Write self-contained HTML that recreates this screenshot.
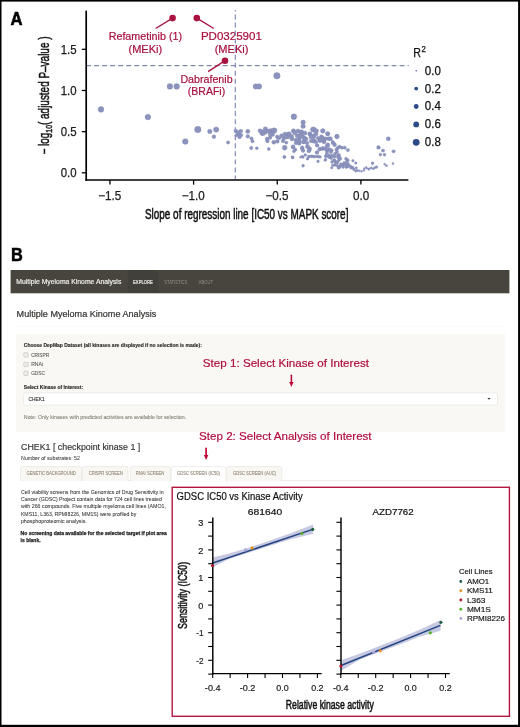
<!DOCTYPE html>
<html><head><meta charset="utf-8"><title>Figure</title>
<style>
html,body{margin:0;padding:0;background:#fff;}
body{width:520px;height:727px;overflow:hidden;}
svg{display:block;font-family:"Liberation Sans", sans-serif;will-change:transform;}
</style></head>
<body>
<svg width="520" height="727" viewBox="0 0 520 727">
<rect width="520" height="727" fill="#fff"/>
<text x="10.6" y="25.3" font-size="17.5" fill="#000" textLength="12.0" lengthAdjust="spacingAndGlyphs" font-weight="bold" stroke="#000" stroke-width="0.55">A</text>
<text x="108.7" y="40.3" font-size="10.5" fill="#a8123e" stroke="#a8123e" stroke-width="0.2" textLength="73.3" lengthAdjust="spacingAndGlyphs">Refametinib (1)</text>
<text x="145.3" y="53.2" font-size="10.5" fill="#a8123e" stroke="#a8123e" stroke-width="0.2" text-anchor="middle" textLength="33.6" lengthAdjust="spacingAndGlyphs">(MEKi)</text>
<text x="200.9" y="40.2" font-size="10.5" fill="#a8123e" stroke="#a8123e" stroke-width="0.2" textLength="61.0" lengthAdjust="spacingAndGlyphs">PD0325901</text>
<text x="231.6" y="53.2" font-size="10.5" fill="#a8123e" stroke="#a8123e" stroke-width="0.2" text-anchor="middle" textLength="33.9" lengthAdjust="spacingAndGlyphs">(MEKi)</text>
<text x="180.4" y="82.5" font-size="10.5" fill="#a8123e" stroke="#a8123e" stroke-width="0.2" textLength="52.2" lengthAdjust="spacingAndGlyphs">Dabrafenib</text>
<text x="206.5" y="95.3" font-size="10.5" fill="#a8123e" stroke="#a8123e" stroke-width="0.2" text-anchor="middle" textLength="37.3" lengthAdjust="spacingAndGlyphs">(BRAFi)</text>
<line x1="86.06" y1="65.55" x2="408.7" y2="65.55" stroke="#7f86b8" stroke-width="1.15" stroke-dasharray="4.9 3.14"/>
<line x1="235.3" y1="9.9" x2="235.3" y2="179.6" stroke="#7f86b8" stroke-width="1.15" stroke-dasharray="4.95 3.1" stroke-dashoffset="3.45"/>
<g fill="#8c93bd" stroke="#7e85b3" stroke-width="0.35"><circle cx="101" cy="109.4" r="2.85"/><circle cx="147.9" cy="117" r="2.85"/><circle cx="185.3" cy="141.5" r="2.85"/><circle cx="197.8" cy="129.6" r="3.25"/><circle cx="209.8" cy="131.4" r="2.25"/><circle cx="216.2" cy="129.6" r="2.65"/><circle cx="213.9" cy="136.7" r="1.85"/><circle cx="228.1" cy="142.5" r="1.65"/><circle cx="169.9" cy="86.4" r="2.85"/><circle cx="176.7" cy="86.4" r="2.85"/><circle cx="255.8" cy="86.4" r="2.75"/><circle cx="259" cy="86.4" r="2.75"/><circle cx="235.8" cy="131.1" r="1.95"/><circle cx="240.8" cy="131.1" r="1.95"/><circle cx="238.6" cy="134.2" r="1.95"/><circle cx="239.5" cy="136.9" r="1.95"/><circle cx="236.2" cy="135.5" r="1.45"/><circle cx="247.8" cy="131.4" r="2.15"/><circle cx="247.8" cy="136.3" r="1.85"/><circle cx="251.5" cy="138.5" r="1.65"/><circle cx="252.5" cy="141.2" r="1.65"/><circle cx="251.2" cy="148" r="1.65"/><circle cx="256.8" cy="148.3" r="1.45"/><circle cx="260" cy="130.8" r="2.05"/><circle cx="261.7" cy="133.5" r="1.85"/><circle cx="265.4" cy="129.1" r="2.25"/><circle cx="265.1" cy="132.5" r="2.05"/><circle cx="270.8" cy="131.1" r="2.55"/><circle cx="274.2" cy="130.6" r="2.75"/><circle cx="272.5" cy="134.5" r="2.05"/><circle cx="267.1" cy="138.9" r="1.85"/><circle cx="267.4" cy="140.9" r="1.65"/><circle cx="270.1" cy="137.5" r="1.85"/><circle cx="273.8" cy="142.2" r="2.05"/><circle cx="277.2" cy="141.2" r="1.65"/><circle cx="277.2" cy="136.8" r="1.85"/><circle cx="281.6" cy="135.8" r="2.15"/><circle cx="283.9" cy="138.2" r="1.85"/><circle cx="288.3" cy="134.2" r="2.05"/><circle cx="286.3" cy="142.6" r="1.55"/><circle cx="284.7" cy="147.8" r="2.45"/><circle cx="268.8" cy="149.0" r="1.55"/><circle cx="267.5" cy="141" r="1.75"/><circle cx="277.5" cy="141.5" r="1.65"/><circle cx="293.1" cy="147.1" r="1.85"/><circle cx="295.2" cy="149.7" r="1.75"/><circle cx="293.9" cy="151.4" r="1.45"/><circle cx="284.4" cy="157" r="1.45"/><circle cx="292.6" cy="157.5" r="1.45"/><circle cx="298.7" cy="142.3" r="1.85"/><circle cx="293.9" cy="116.7" r="2.85"/><circle cx="303.1" cy="122.3" r="2.25"/><circle cx="303.1" cy="126.2" r="2.25"/><circle cx="293.5" cy="131" r="2.25"/><circle cx="289.1" cy="133.8" r="2.05"/><circle cx="291.5" cy="136.3" r="2.05"/><circle cx="297.3" cy="135.8" r="2.05"/><circle cx="301.6" cy="131.9" r="2.05"/><circle cx="302.1" cy="135.8" r="2.05"/><circle cx="299.2" cy="138.7" r="2.05"/><circle cx="304" cy="137.7" r="2.05"/><circle cx="303.1" cy="142" r="1.85"/><circle cx="299.2" cy="143.5" r="1.85"/><circle cx="309.8" cy="133.8" r="2.05"/><circle cx="313.7" cy="129.5" r="2.55"/><circle cx="316.5" cy="131" r="2.05"/><circle cx="313.7" cy="135.8" r="2.05"/><circle cx="314.1" cy="140.6" r="1.85"/><circle cx="322.8" cy="131" r="2.15"/><circle cx="327.6" cy="133.8" r="2.05"/><circle cx="321.3" cy="136.7" r="1.85"/><circle cx="323.8" cy="139.1" r="1.85"/><circle cx="319.9" cy="140.6" r="1.85"/><circle cx="328.6" cy="138.7" r="1.85"/><circle cx="310" cy="134.2" r="1.85"/><circle cx="313.8" cy="136.9" r="1.85"/><circle cx="317.3" cy="145.4" r="1.65"/><circle cx="322.3" cy="137.3" r="1.85"/><circle cx="320" cy="140.4" r="1.85"/><circle cx="323.8" cy="141.5" r="1.85"/><circle cx="330.4" cy="138.8" r="1.85"/><circle cx="333.1" cy="143.1" r="1.75"/><circle cx="334.6" cy="145" r="1.75"/><circle cx="336.9" cy="136.5" r="2.15"/><circle cx="337.7" cy="148.1" r="1.75"/><circle cx="320" cy="148.8" r="1.75"/><circle cx="323.1" cy="148.1" r="1.75"/><circle cx="326.9" cy="145.8" r="1.75"/><circle cx="328.5" cy="149.6" r="1.75"/><circle cx="331.5" cy="150.4" r="1.75"/><circle cx="316.9" cy="152.3" r="1.65"/><circle cx="302.3" cy="156.5" r="1.25"/><circle cx="305.4" cy="155" r="1.25"/><circle cx="308.5" cy="156.5" r="1.25"/><circle cx="313.1" cy="156.5" r="1.35"/><circle cx="316.9" cy="156.5" r="1.35"/><circle cx="326.2" cy="155.8" r="1.35"/><circle cx="329.2" cy="155.4" r="1.35"/><circle cx="332.3" cy="155.8" r="1.35"/><circle cx="337.7" cy="155.8" r="1.35"/><circle cx="307.7" cy="158.8" r="1.25"/><circle cx="307.7" cy="146.5" r="1.85"/><circle cx="309.2" cy="150.4" r="1.85"/><circle cx="302.3" cy="148.8" r="1.75"/><circle cx="293" cy="146.7" r="1.85"/><circle cx="302.1" cy="147.7" r="1.85"/><circle cx="303.1" cy="150.6" r="1.85"/><circle cx="307.4" cy="146.7" r="1.85"/><circle cx="309.8" cy="148.7" r="1.85"/><circle cx="308.8" cy="151" r="1.85"/><circle cx="284.3" cy="157.1" r="1.45"/><circle cx="292.5" cy="157.3" r="1.45"/><circle cx="300.7" cy="157.1" r="1.15"/><circle cx="303.1" cy="157.3" r="1.15"/><circle cx="305" cy="154.9" r="1.15"/><circle cx="307.4" cy="158.8" r="1.15"/><circle cx="311.7" cy="156.3" r="1.35"/><circle cx="318" cy="161.3" r="1.35"/><circle cx="303.1" cy="165.8" r="1.45"/><circle cx="317" cy="145.3" r="1.65"/><circle cx="317" cy="152.5" r="1.65"/><circle cx="319.4" cy="149.6" r="1.65"/><circle cx="322.3" cy="149.1" r="1.65"/><circle cx="325.2" cy="148.7" r="1.65"/><circle cx="328.1" cy="145.8" r="1.65"/><circle cx="327.1" cy="150.6" r="1.65"/><circle cx="325.7" cy="156.3" r="1.35"/><circle cx="325" cy="160.2" r="1.15"/><circle cx="327.7" cy="133.8" r="2.15"/><circle cx="325.5" cy="138.7" r="1.85"/><circle cx="330.3" cy="138.7" r="1.85"/><circle cx="337" cy="136.5" r="2.15"/><circle cx="332.7" cy="142" r="1.65"/><circle cx="327.9" cy="144.4" r="1.65"/><circle cx="334.6" cy="144.2" r="1.65"/><circle cx="326.4" cy="149.6" r="1.85"/><circle cx="329.8" cy="149.6" r="1.75"/><circle cx="336.5" cy="149.6" r="1.65"/><circle cx="337" cy="152" r="1.65"/><circle cx="339.4" cy="146.7" r="1.65"/><circle cx="341.8" cy="147.7" r="1.65"/><circle cx="344.7" cy="147.7" r="1.65"/><circle cx="347.9" cy="150.1" r="1.65"/><circle cx="326" cy="155.9" r="1.45"/><circle cx="328.8" cy="156.3" r="1.45"/><circle cx="331.7" cy="155.9" r="1.45"/><circle cx="334.6" cy="156.8" r="1.45"/><circle cx="339.4" cy="157.3" r="1.45"/><circle cx="340.4" cy="158.8" r="1.45"/><circle cx="325.5" cy="159.7" r="1.35"/><circle cx="334.6" cy="160.7" r="1.45"/><circle cx="335.6" cy="163.1" r="1.45"/><circle cx="337.5" cy="161.6" r="1.45"/><circle cx="332.7" cy="165.5" r="1.35"/><circle cx="331.7" cy="167.9" r="1.15"/><circle cx="337.5" cy="166" r="1.35"/><circle cx="339.4" cy="167.4" r="1.35"/><circle cx="340.9" cy="164" r="1.35"/><circle cx="343.3" cy="165" r="1.35"/><circle cx="346.2" cy="158.8" r="1.65"/><circle cx="346.6" cy="161.6" r="1.35"/><circle cx="345.2" cy="164.5" r="1.35"/><circle cx="347.1" cy="166.9" r="1.25"/><circle cx="349" cy="165.5" r="1.25"/><circle cx="351" cy="166.4" r="1.25"/><circle cx="352.9" cy="167.4" r="1.25"/><circle cx="352.9" cy="160.7" r="1.25"/><circle cx="355.8" cy="163.1" r="1.25"/><circle cx="353.8" cy="169.3" r="1.15"/><circle cx="356.3" cy="167.9" r="1.15"/><circle cx="355.8" cy="171.3" r="1.05"/><circle cx="359.1" cy="170.8" r="1.05"/><circle cx="361.5" cy="171.3" r="1.05"/><circle cx="363.9" cy="170.3" r="1.05"/><circle cx="364.4" cy="168.4" r="0.95"/><circle cx="366.3" cy="167.4" r="0.95"/><circle cx="368.8" cy="168.8" r="0.95"/><circle cx="371.2" cy="167.9" r="0.95"/><circle cx="373.1" cy="168.8" r="0.95"/><circle cx="372.6" cy="163.1" r="1.25"/><circle cx="348.1" cy="160.2" r="1.25"/><circle cx="388.3" cy="138.8" r="2.05"/><circle cx="378.5" cy="147.4" r="1.85"/><circle cx="383" cy="150.6" r="1.65"/><circle cx="393.6" cy="151.3" r="1.65"/><circle cx="380.4" cy="154.6" r="1.45"/><circle cx="384.5" cy="154.8" r="1.45"/><circle cx="372.5" cy="163.6" r="1.05"/><circle cx="384.7" cy="164.2" r="1.05"/><circle cx="386.6" cy="165.7" r="1.05"/><circle cx="392.9" cy="163.6" r="1.05"/><circle cx="376.5" cy="167.1" r="1.35"/><circle cx="374.6" cy="167.8" r="1.15"/><circle cx="367" cy="168.5" r="0.85"/><circle cx="369" cy="169.5" r="0.85"/><circle cx="371" cy="168" r="0.85"/><circle cx="299.2" cy="141" r="1.85"/><circle cx="304" cy="141" r="1.85"/><circle cx="313.7" cy="141" r="1.85"/><circle cx="320.4" cy="140.5" r="1.85"/><circle cx="324.2" cy="142" r="1.85"/><circle cx="301.5" cy="131.9" r="1.85"/><circle cx="302.3" cy="136.5" r="1.85"/><circle cx="303.8" cy="141.9" r="1.85"/><circle cx="312.7" cy="129.6" r="2.35"/><circle cx="315.8" cy="130.8" r="2.15"/><circle cx="313.5" cy="141.2" r="1.85"/><circle cx="322.7" cy="130.8" r="2.05"/><circle cx="276.9" cy="75.7" r="3.25"/><circle cx="288" cy="137" r="2.05"/><circle cx="292" cy="139" r="2.05"/><circle cx="295" cy="133" r="2.05"/><circle cx="296" cy="140" r="2.05"/><circle cx="298" cy="131" r="2.05"/><circle cx="300" cy="135" r="2.05"/><circle cx="305" cy="133" r="2.05"/><circle cx="306" cy="139" r="2.05"/><circle cx="307" cy="143" r="1.85"/><circle cx="296" cy="143" r="1.85"/><circle cx="311" cy="137" r="2.05"/><circle cx="311" cy="141" r="1.85"/><circle cx="316" cy="134" r="2.05"/><circle cx="318" cy="138" r="1.85"/><circle cx="316" cy="142" r="1.85"/><circle cx="285" cy="134" r="2.05"/><circle cx="283" cy="141" r="1.85"/><circle cx="238" cy="132.5" r="1.95"/><circle cx="241" cy="135" r="1.85"/><circle cx="262" cy="131.5" r="1.95"/><circle cx="268" cy="131" r="2.05"/><circle cx="263" cy="134" r="1.85"/><circle cx="279" cy="138" r="1.85"/><circle cx="286" cy="137" r="1.95"/><circle cx="270" cy="134" r="1.95"/><circle cx="334" cy="160" r="1.55"/><circle cx="337" cy="163" r="1.55"/><circle cx="339" cy="160" r="1.45"/><circle cx="335" cy="165" r="1.45"/><circle cx="340" cy="166" r="1.45"/><circle cx="343" cy="167" r="1.45"/><circle cx="346" cy="167" r="1.45"/><circle cx="349" cy="166" r="1.45"/><circle cx="344" cy="163" r="1.45"/><circle cx="348" cy="163.5" r="1.35"/><circle cx="351" cy="168" r="1.35"/><circle cx="354" cy="169.5" r="1.25"/><circle cx="357" cy="170.5" r="1.15"/><circle cx="331" cy="158" r="1.55"/><circle cx="338" cy="157.5" r="1.45"/><circle cx="342" cy="165" r="1.45"/><circle cx="346.5" cy="164.5" r="1.45"/><circle cx="338.5" cy="168" r="1.35"/><circle cx="332" cy="162" r="1.45"/><circle cx="327" cy="153" r="1.65"/><circle cx="331" cy="152" r="1.65"/><circle cx="335" cy="154" r="1.65"/><circle cx="339" cy="155" r="1.55"/><circle cx="329" cy="157" r="1.55"/><circle cx="314.8" cy="156.6" r="1.45"/><circle cx="318.6" cy="156.6" r="1.45"/><circle cx="320.2" cy="157" r="1.25"/><circle cx="310" cy="156.4" r="1.35"/></g>
<g stroke="#a8123e" stroke-width="1.3" fill="none"><line x1="172.6" y1="18.1" x2="155.6" y2="28.5"/><line x1="196.8" y1="18.1" x2="213.8" y2="28.5"/><line x1="225" y1="60.6" x2="208.1" y2="71.6"/></g>
<g fill="#a8123e"><circle cx="172.6" cy="18.1" r="3.3"/><circle cx="196.8" cy="18.1" r="3.3"/><circle cx="225" cy="60.8" r="3.3"/></g>
<line x1="86.2" y1="10.6" x2="86.2" y2="180.85" stroke="#000" stroke-width="1.7"/>
<line x1="85.35" y1="180.0" x2="408.4" y2="180.0" stroke="#000" stroke-width="1.7"/>
<line x1="81.8" y1="172.80" x2="86.2" y2="172.80" stroke="#000" stroke-width="1.3"/>
<text x="76.6" y="177.00" font-size="12.2" fill="#1a1a1a" stroke="#1a1a1a" stroke-width="0.25" text-anchor="end" textLength="15.9" lengthAdjust="spacingAndGlyphs">0.0</text>
<line x1="81.8" y1="131.64" x2="86.2" y2="131.64" stroke="#000" stroke-width="1.3"/>
<text x="76.6" y="135.84" font-size="12.2" fill="#1a1a1a" stroke="#1a1a1a" stroke-width="0.25" text-anchor="end" textLength="15.9" lengthAdjust="spacingAndGlyphs">0.5</text>
<line x1="81.8" y1="90.47" x2="86.2" y2="90.47" stroke="#000" stroke-width="1.3"/>
<text x="76.6" y="94.67" font-size="12.2" fill="#1a1a1a" stroke="#1a1a1a" stroke-width="0.25" text-anchor="end" textLength="15.9" lengthAdjust="spacingAndGlyphs">1.0</text>
<line x1="81.8" y1="49.31" x2="86.2" y2="49.31" stroke="#000" stroke-width="1.3"/>
<text x="76.6" y="53.51" font-size="12.2" fill="#1a1a1a" stroke="#1a1a1a" stroke-width="0.25" text-anchor="end" textLength="15.9" lengthAdjust="spacingAndGlyphs">1.5</text>
<line x1="109.95" y1="180" x2="109.95" y2="184.6" stroke="#000" stroke-width="1.3"/>
<text x="109.65" y="199.8" font-size="12.2" fill="#1a1a1a" stroke="#1a1a1a" stroke-width="0.25" text-anchor="middle" textLength="23.0" lengthAdjust="spacingAndGlyphs">−1.5</text>
<line x1="193.60" y1="180" x2="193.60" y2="184.6" stroke="#000" stroke-width="1.3"/>
<text x="193.30" y="199.8" font-size="12.2" fill="#1a1a1a" stroke="#1a1a1a" stroke-width="0.25" text-anchor="middle" textLength="23.0" lengthAdjust="spacingAndGlyphs">−1.0</text>
<line x1="277.25" y1="180" x2="277.25" y2="184.6" stroke="#000" stroke-width="1.3"/>
<text x="276.95" y="199.8" font-size="12.2" fill="#1a1a1a" stroke="#1a1a1a" stroke-width="0.25" text-anchor="middle" textLength="23.0" lengthAdjust="spacingAndGlyphs">−0.5</text>
<line x1="360.90" y1="180" x2="360.90" y2="184.6" stroke="#000" stroke-width="1.3"/>
<text x="361.20" y="199.8" font-size="12.2" fill="#1a1a1a" stroke="#1a1a1a" stroke-width="0.25" text-anchor="middle" textLength="16.2" lengthAdjust="spacingAndGlyphs">0.0</text>
<text x="145" y="218.9" font-size="14" fill="#111" textLength="203.4" lengthAdjust="spacingAndGlyphs" stroke="#111" stroke-width="0.5">Slope of regression line [IC50 vs MAPK score]</text>
<g transform="translate(48.7,154.5) rotate(-90)"><text x="0" y="0" font-size="13.8" fill="#111" stroke="#111" stroke-width="0.5" textLength="118" lengthAdjust="spacingAndGlyphs">− log<tspan font-size="9.5" dy="3.2">10</tspan><tspan dy="-3.2">( adjusted P–value )</tspan></text></g>
<text x="413.2" y="56.5" font-size="12.3" fill="#111" stroke="#111" stroke-width="0.25" textLength="7.7" lengthAdjust="spacingAndGlyphs">R</text>
<text x="421.4" y="51.6" font-size="8.6" fill="#111" stroke="#111" stroke-width="0.25" textLength="4.4" lengthAdjust="spacingAndGlyphs">2</text>
<circle cx="416.2" cy="70.70" r="0.7" fill="#2b4a87"/>
<text x="424.8" y="74.60" font-size="12" fill="#111" stroke="#111" stroke-width="0.25" textLength="16" lengthAdjust="spacingAndGlyphs">0.0</text>
<circle cx="416.2" cy="88.60" r="1.9" fill="#2b4a87"/>
<text x="424.8" y="92.50" font-size="12" fill="#111" stroke="#111" stroke-width="0.25" textLength="16" lengthAdjust="spacingAndGlyphs">0.2</text>
<circle cx="416.2" cy="106.50" r="2.4" fill="#2b4a87"/>
<text x="424.8" y="110.40" font-size="12" fill="#111" stroke="#111" stroke-width="0.25" textLength="16" lengthAdjust="spacingAndGlyphs">0.4</text>
<circle cx="416.2" cy="124.40" r="2.9" fill="#2b4a87"/>
<text x="424.8" y="128.30" font-size="12" fill="#111" stroke="#111" stroke-width="0.25" textLength="16" lengthAdjust="spacingAndGlyphs">0.6</text>
<circle cx="416.2" cy="142.30" r="3.4" fill="#2b4a87"/>
<text x="424.8" y="146.20" font-size="12" fill="#111" stroke="#111" stroke-width="0.25" textLength="16" lengthAdjust="spacingAndGlyphs">0.8</text>
<text x="11.0" y="261" font-size="17.5" fill="#000" textLength="11.8" lengthAdjust="spacingAndGlyphs" font-weight="bold" stroke="#000" stroke-width="0.5">B</text>
<rect x="10.6" y="270" width="498.8" height="23.3" fill="#47453e"/>
<rect x="127.7" y="270" width="30.2" height="23" fill="#42403a"/>
<text x="16.3" y="283.6" font-size="6.5" fill="#f4f2ee" stroke="#f4f2ee" stroke-width="0.15" textLength="105" lengthAdjust="spacingAndGlyphs">Multiple Myeloma Kinome Analysis</text>
<text x="133.1" y="283.6" font-size="5.2" fill="#eeece6" textLength="19.6" lengthAdjust="spacingAndGlyphs" stroke="#eeece6" stroke-width="0.2">EXPLORE</text>
<text x="164.2" y="283.6" font-size="5.2" fill="#96928a" textLength="23.1" lengthAdjust="spacingAndGlyphs">STATISTICS</text>
<text x="198.8" y="283.6" font-size="5.2" fill="#96928a" textLength="14.1" lengthAdjust="spacingAndGlyphs">ABOUT</text>
<text x="16.6" y="316.9" font-size="9" fill="#353330" stroke="#353330" stroke-width="0.2" textLength="139.7" lengthAdjust="spacingAndGlyphs">Multiple Myeloma Kinome Analysis</text>
<line x1="16" y1="326.3" x2="505" y2="326.3" stroke="#f8f7f4" stroke-width="0.6"/>
<rect x="16.1" y="334.1" width="489.2" height="98" fill="#f9f8f4"/>
<text x="23.85" y="347" font-size="6" fill="#2a2826" stroke="#2a2826" stroke-width="0.15" textLength="178" lengthAdjust="spacingAndGlyphs" font-weight="bold">Choose DepMap Dataset (all kinases are displayed if no selection is made):</text>
<rect x="23.8" y="352.8" width="4.3" height="4.2" rx="0.8" fill="#efeeec" stroke="#bdbab5" stroke-width="0.6"/>
<text x="31.15" y="356.6" font-size="5" fill="#55514a" textLength="18.05" lengthAdjust="spacingAndGlyphs" stroke="#55514a" stroke-width="0.06">CRISPR</text>
<rect x="23.8" y="362.4" width="4.3" height="4.2" rx="0.8" fill="#efeeec" stroke="#bdbab5" stroke-width="0.6"/>
<text x="31.15" y="366.2" font-size="5" fill="#55514a" textLength="11.85" lengthAdjust="spacingAndGlyphs" stroke="#55514a" stroke-width="0.06">RNAi</text>
<rect x="23.8" y="371.3" width="4.3" height="4.2" rx="0.8" fill="#efeeec" stroke="#bdbab5" stroke-width="0.6"/>
<text x="31.15" y="375.1" font-size="5" fill="#55514a" textLength="13.85" lengthAdjust="spacingAndGlyphs" stroke="#55514a" stroke-width="0.06">GDSC</text>
<text x="23.85" y="388.8" font-size="5.6" fill="#2a2826" stroke="#2a2826" stroke-width="0.15" textLength="59.2" lengthAdjust="spacingAndGlyphs" font-weight="bold">Select Kinase of Interest:</text>
<rect x="23.6" y="392.9" width="473.9" height="12.2" rx="2" fill="#fff" stroke="#e2e0dc" stroke-width="0.6"/>
<text x="28.5" y="400.8" font-size="5.4" fill="#2e2c29" textLength="16.1" lengthAdjust="spacingAndGlyphs" stroke="#2e2c29" stroke-width="0.12">CHEK1</text>
<path d="M487.4 398 L490.6 398 L489 399.7 Z" fill="#333"/>
<text x="23.85" y="418.6" font-size="5.1" fill="#8a857c" textLength="162.3" lengthAdjust="spacingAndGlyphs" stroke="#8a857c" stroke-width="0.1">Note: Only kinases with predicted activities are available for selection.</text>
<text x="202.8" y="367.2" font-size="11.6" fill="#b10e3e" stroke="#b10e3e" stroke-width="0.2" textLength="166.2" lengthAdjust="spacingAndGlyphs">Step 1: Select Kinase of Interest</text>
<rect x="288.9" y="373.3" width="5" height="15" fill="#fff" opacity="0.8"/>
<line x1="291.4" y1="375.2" x2="291.4" y2="383" stroke="#c00a32" stroke-width="1.6" stroke-linecap="round"/>
<path d="M289.2 382 L293.6 382 L291.4 386.9 Z" fill="#c00a32"/>
<text x="199.1" y="440.2" font-size="11.6" fill="#b10e3e" stroke="#b10e3e" stroke-width="0.2" textLength="172.5" lengthAdjust="spacingAndGlyphs">Step 2: Select Analysis of Interest</text>
<line x1="206.1" y1="448.3" x2="206.1" y2="456" stroke="#c00a32" stroke-width="1.7" stroke-linecap="round"/>
<path d="M203.9 455.1 L208.3 455.1 L206.1 459.9 Z" fill="#c00a32"/>
<text x="21.1" y="449.7" font-size="8.8" fill="#333130" textLength="119.1" lengthAdjust="spacingAndGlyphs" stroke="#333130" stroke-width="0.15">CHEK1 [ checkpoint kinase 1 ]</text>
<text x="21.1" y="459.6" font-size="5.2" fill="#3a3835" textLength="58.8" lengthAdjust="spacingAndGlyphs" stroke="#3a3835" stroke-width="0.05">Number of substrates: 52</text>
<line x1="20" y1="480.6" x2="509.4" y2="480.6" stroke="#e6e3de" stroke-width="0.8"/>
<path d="M20.5 481 L20.5 468.5 Q20.5 466.5 22.5 466.5 L79.5 466.5 Q81.5 466.5 81.5 468.5 L81.5 481" fill="#f8f7f3" stroke="#e8e5e0" stroke-width="0.7"/>
<text x="26.6" y="475.2" font-size="4.8" fill="#928876" textLength="49.2" lengthAdjust="spacingAndGlyphs" stroke="#928876" stroke-width="0.1">GENETIC BACKGROUND</text>
<path d="M82.3 481 L82.3 468.5 Q82.3 466.5 84.3 466.5 L126 466.5 Q128 466.5 128 468.5 L128 481" fill="#f8f7f3" stroke="#e8e5e0" stroke-width="0.7"/>
<text x="88.7" y="475.2" font-size="4.8" fill="#928876" textLength="34" lengthAdjust="spacingAndGlyphs" stroke="#928876" stroke-width="0.1">CRISPR SCREEN</text>
<path d="M130.4 481 L130.4 468.5 Q130.4 466.5 132.4 466.5 L168.4 466.5 Q170.4 466.5 170.4 468.5 L170.4 481" fill="#f8f7f3" stroke="#e8e5e0" stroke-width="0.7"/>
<text x="135.8" y="475.2" font-size="4.8" fill="#928876" textLength="28.4" lengthAdjust="spacingAndGlyphs" stroke="#928876" stroke-width="0.1">RNAI SCREEN</text>
<path d="M171.3 481 L171.3 468.5 Q171.3 466.5 173.3 466.5 L223.8 466.5 Q225.8 466.5 225.8 468.5 L225.8 481" fill="#ffffff" stroke="#e8e5e0" stroke-width="0.7"/>
<text x="177" y="475.2" font-size="4.8" fill="#928876" textLength="43" lengthAdjust="spacingAndGlyphs" stroke="#928876" stroke-width="0.1">GDSC SCREEN (IC50)</text>
<path d="M226.8 481 L226.8 468.5 Q226.8 466.5 228.8 466.5 L279.8 466.5 Q281.8 466.5 281.8 468.5 L281.8 481" fill="#f8f7f3" stroke="#e8e5e0" stroke-width="0.7"/>
<text x="233" y="475.2" font-size="4.8" fill="#928876" textLength="43" lengthAdjust="spacingAndGlyphs" stroke="#928876" stroke-width="0.1">GDSC SCREEN (AUC)</text>
<text x="20.9" y="493.5" font-size="5.3" fill="#34322f" textLength="142.8" lengthAdjust="spacingAndGlyphs" stroke="#34322f" stroke-width="0.05">Cell viability screens from the Genomics of Drug Sensitivity in</text>
<text x="20.9" y="500.9" font-size="5.3" fill="#34322f" textLength="140.9" lengthAdjust="spacingAndGlyphs" stroke="#34322f" stroke-width="0.05">Cancer (GDSC) Project contain data for 724 cell lines treated</text>
<text x="20.9" y="508.3" font-size="5.3" fill="#34322f" textLength="145.1" lengthAdjust="spacingAndGlyphs" stroke="#34322f" stroke-width="0.05">with 266 compounds. Five multiple myeloma cell lines (AMO1,</text>
<text x="20.9" y="516" font-size="5.3" fill="#34322f" textLength="115.4" lengthAdjust="spacingAndGlyphs" stroke="#34322f" stroke-width="0.05">KMS11, L363, RPMI8226, MM1S) were profiled by</text>
<text x="20.9" y="523.2" font-size="5.3" fill="#34322f" textLength="65.9" lengthAdjust="spacingAndGlyphs" stroke="#34322f" stroke-width="0.05">phosphoproteomic analysis.</text>
<text x="20.6" y="535.1" font-size="5.3" fill="#222" textLength="146.2" lengthAdjust="spacingAndGlyphs" font-weight="bold" stroke="#222" stroke-width="0.25">No screening data available for the selected target if plot area</text>
<text x="20.6" y="542.3" font-size="5.3" fill="#222" textLength="20" lengthAdjust="spacingAndGlyphs" font-weight="bold" stroke="#222" stroke-width="0.25">is blank.</text>
<rect x="172.2" y="487.3" width="337.2" height="229" fill="#fff" stroke="#b3173f" stroke-width="1.4"/>
<text x="176.6" y="499.9" font-size="10.3" fill="#111" stroke="#111" stroke-width="0.2" textLength="126.1" lengthAdjust="spacingAndGlyphs">GDSC IC50 vs Kinase Activity</text>
<text x="247.8" y="514.9" font-size="9.6" fill="#111" stroke="#111" stroke-width="0.2" textLength="34.4" lengthAdjust="spacingAndGlyphs">681640</text>
<text x="372.6" y="514.9" font-size="9.6" fill="#111" stroke="#111" stroke-width="0.2" textLength="41.0" lengthAdjust="spacingAndGlyphs">AZD7762</text>
<polygon points="212.8,557.6 230,553.2 250,547.2 270,540.6 290,533.6 313.2,524.6 313.2,533.8 290,539.6 270,545.8 250,552.2 230,558.6 212.8,567.2" fill="#c6c9e1"/><line x1="212.8" y1="563.0" x2="312.7" y2="529.4" stroke="#21437f" stroke-width="1.5"/><line x1="212.8" y1="517.6" x2="212.8" y2="674.4" stroke="#000" stroke-width="1.45"/><line x1="212.10000000000002" y1="673.6" x2="321.6" y2="673.6" stroke="#000" stroke-width="1.45"/><line x1="208.20000000000002" y1="674.10" x2="212.8" y2="674.10" stroke="#000" stroke-width="1.1"/><line x1="208.20000000000002" y1="660.30" x2="212.8" y2="660.30" stroke="#000" stroke-width="1.1"/><text x="203.4" y="664.00" font-size="9.6" fill="#1a1a1a" stroke="#1a1a1a" stroke-width="0.2" text-anchor="end" textLength="7.2" lengthAdjust="spacingAndGlyphs">-2</text><line x1="208.20000000000002" y1="646.50" x2="212.8" y2="646.50" stroke="#000" stroke-width="1.1"/><line x1="208.20000000000002" y1="632.70" x2="212.8" y2="632.70" stroke="#000" stroke-width="1.1"/><text x="203.4" y="636.40" font-size="9.6" fill="#1a1a1a" stroke="#1a1a1a" stroke-width="0.2" text-anchor="end" textLength="7.2" lengthAdjust="spacingAndGlyphs">-1</text><line x1="208.20000000000002" y1="618.90" x2="212.8" y2="618.90" stroke="#000" stroke-width="1.1"/><line x1="208.20000000000002" y1="605.10" x2="212.8" y2="605.10" stroke="#000" stroke-width="1.1"/><text x="203.4" y="608.80" font-size="9.6" fill="#1a1a1a" stroke="#1a1a1a" stroke-width="0.2" text-anchor="end" textLength="5.1" lengthAdjust="spacingAndGlyphs">0</text><line x1="208.20000000000002" y1="591.30" x2="212.8" y2="591.30" stroke="#000" stroke-width="1.1"/><line x1="208.20000000000002" y1="577.50" x2="212.8" y2="577.50" stroke="#000" stroke-width="1.1"/><text x="203.4" y="581.20" font-size="9.6" fill="#1a1a1a" stroke="#1a1a1a" stroke-width="0.2" text-anchor="end" textLength="5.1" lengthAdjust="spacingAndGlyphs">1</text><line x1="208.20000000000002" y1="563.70" x2="212.8" y2="563.70" stroke="#000" stroke-width="1.1"/><line x1="208.20000000000002" y1="549.90" x2="212.8" y2="549.90" stroke="#000" stroke-width="1.1"/><text x="203.4" y="553.60" font-size="9.6" fill="#1a1a1a" stroke="#1a1a1a" stroke-width="0.2" text-anchor="end" textLength="5.1" lengthAdjust="spacingAndGlyphs">2</text><line x1="208.20000000000002" y1="536.10" x2="212.8" y2="536.10" stroke="#000" stroke-width="1.1"/><line x1="208.20000000000002" y1="522.30" x2="212.8" y2="522.30" stroke="#000" stroke-width="1.1"/><text x="203.4" y="526.00" font-size="9.6" fill="#1a1a1a" stroke="#1a1a1a" stroke-width="0.2" text-anchor="end" textLength="5.1" lengthAdjust="spacingAndGlyphs">3</text><line x1="212.70" y1="673.6" x2="212.70" y2="678" stroke="#000" stroke-width="1.1"/><text x="212.70" y="690.8" font-size="9.6" fill="#1a1a1a" stroke="#1a1a1a" stroke-width="0.2" text-anchor="middle" textLength="15.7" lengthAdjust="spacingAndGlyphs">-0.4</text><line x1="230.15" y1="673.6" x2="230.15" y2="678" stroke="#000" stroke-width="1.1"/><line x1="247.60" y1="673.6" x2="247.60" y2="678" stroke="#000" stroke-width="1.1"/><text x="247.60" y="690.8" font-size="9.6" fill="#1a1a1a" stroke="#1a1a1a" stroke-width="0.2" text-anchor="middle" textLength="15.7" lengthAdjust="spacingAndGlyphs">-0.2</text><line x1="265.05" y1="673.6" x2="265.05" y2="678" stroke="#000" stroke-width="1.1"/><line x1="282.50" y1="673.6" x2="282.50" y2="678" stroke="#000" stroke-width="1.1"/><text x="282.50" y="690.8" font-size="9.6" fill="#1a1a1a" stroke="#1a1a1a" stroke-width="0.2" text-anchor="middle" textLength="12.4" lengthAdjust="spacingAndGlyphs">0.0</text><line x1="299.95" y1="673.6" x2="299.95" y2="678" stroke="#000" stroke-width="1.1"/><line x1="317.40" y1="673.6" x2="317.40" y2="678" stroke="#000" stroke-width="1.1"/><text x="317.40" y="690.8" font-size="9.6" fill="#1a1a1a" stroke="#1a1a1a" stroke-width="0.2" text-anchor="middle" textLength="12.4" lengthAdjust="spacingAndGlyphs">0.2</text><circle cx="245.6" cy="549.9" r="1.6" fill="#aaa6dd"/><circle cx="252.1" cy="547.9" r="1.6" fill="#e8911f"/><circle cx="301.9" cy="533.5" r="1.6" fill="#58b02d"/><circle cx="312.7" cy="529.4" r="1.6" fill="#1f5e3f"/><circle cx="212.5" cy="565.5" r="1.6" fill="#b3122c"/>
<polygon points="341,660.2 360,653.4 380,645.8 400,637.9 420,629.4 440.6,620.1 440.6,630.7 420,636.6 400,644.6 380,651.8 360,659.6 341,670.8" fill="#c6c9e1"/><line x1="341.0" y1="665.5" x2="440.4" y2="625.4" stroke="#21437f" stroke-width="1.5"/><line x1="341.0" y1="517.6" x2="341.0" y2="674.4" stroke="#000" stroke-width="1.45"/><line x1="340.3" y1="673.6" x2="449.8" y2="673.6" stroke="#000" stroke-width="1.45"/><line x1="336.4" y1="674.10" x2="341.0" y2="674.10" stroke="#000" stroke-width="1.1"/><line x1="336.4" y1="660.30" x2="341.0" y2="660.30" stroke="#000" stroke-width="1.1"/><line x1="336.4" y1="646.50" x2="341.0" y2="646.50" stroke="#000" stroke-width="1.1"/><line x1="336.4" y1="632.70" x2="341.0" y2="632.70" stroke="#000" stroke-width="1.1"/><line x1="336.4" y1="618.90" x2="341.0" y2="618.90" stroke="#000" stroke-width="1.1"/><line x1="336.4" y1="605.10" x2="341.0" y2="605.10" stroke="#000" stroke-width="1.1"/><line x1="336.4" y1="591.30" x2="341.0" y2="591.30" stroke="#000" stroke-width="1.1"/><line x1="336.4" y1="577.50" x2="341.0" y2="577.50" stroke="#000" stroke-width="1.1"/><line x1="336.4" y1="563.70" x2="341.0" y2="563.70" stroke="#000" stroke-width="1.1"/><line x1="336.4" y1="549.90" x2="341.0" y2="549.90" stroke="#000" stroke-width="1.1"/><line x1="336.4" y1="536.10" x2="341.0" y2="536.10" stroke="#000" stroke-width="1.1"/><line x1="336.4" y1="522.30" x2="341.0" y2="522.30" stroke="#000" stroke-width="1.1"/><line x1="340.80" y1="673.6" x2="340.80" y2="678" stroke="#000" stroke-width="1.1"/><text x="340.80" y="690.8" font-size="9.6" fill="#1a1a1a" stroke="#1a1a1a" stroke-width="0.2" text-anchor="middle" textLength="15.7" lengthAdjust="spacingAndGlyphs">-0.4</text><line x1="358.25" y1="673.6" x2="358.25" y2="678" stroke="#000" stroke-width="1.1"/><line x1="375.70" y1="673.6" x2="375.70" y2="678" stroke="#000" stroke-width="1.1"/><text x="375.70" y="690.8" font-size="9.6" fill="#1a1a1a" stroke="#1a1a1a" stroke-width="0.2" text-anchor="middle" textLength="15.7" lengthAdjust="spacingAndGlyphs">-0.2</text><line x1="393.15" y1="673.6" x2="393.15" y2="678" stroke="#000" stroke-width="1.1"/><line x1="410.60" y1="673.6" x2="410.60" y2="678" stroke="#000" stroke-width="1.1"/><text x="410.60" y="690.8" font-size="9.6" fill="#1a1a1a" stroke="#1a1a1a" stroke-width="0.2" text-anchor="middle" textLength="12.4" lengthAdjust="spacingAndGlyphs">0.0</text><line x1="428.05" y1="673.6" x2="428.05" y2="678" stroke="#000" stroke-width="1.1"/><line x1="445.50" y1="673.6" x2="445.50" y2="678" stroke="#000" stroke-width="1.1"/><text x="445.50" y="690.8" font-size="9.6" fill="#1a1a1a" stroke="#1a1a1a" stroke-width="0.2" text-anchor="middle" textLength="12.4" lengthAdjust="spacingAndGlyphs">0.2</text><circle cx="373.8" cy="652.3" r="1.6" fill="#aaa6dd"/><circle cx="380.3" cy="650.8" r="1.6" fill="#e8911f"/><circle cx="430.3" cy="632.8" r="1.6" fill="#58b02d"/><circle cx="440.9" cy="622.3" r="1.6" fill="#1f5e3f"/><circle cx="340.9" cy="666.0" r="1.6" fill="#b3122c"/>
<text x="285.8" y="708.5" font-size="12" fill="#111" textLength="88" lengthAdjust="spacingAndGlyphs" stroke="#111" stroke-width="0.5">Relative kinase activity</text>
<g transform="translate(186.9,628.9) rotate(-90)"><text x="0" y="0" font-size="12.2" fill="#111" textLength="67" lengthAdjust="spacingAndGlyphs" stroke="#111" stroke-width="0.5">Sensitivity (IC50)</text></g>
<text x="459.0" y="574.0" font-size="7.7" fill="#111" stroke="#111" stroke-width="0.15" textLength="33.7" lengthAdjust="spacingAndGlyphs">Cell Lines</text>
<circle cx="460.8" cy="581.50" r="1.4" fill="#1f5e3f"/>
<text x="466.9" y="584.20" font-size="7.8" fill="#111" stroke="#111" stroke-width="0.15" textLength="22.3" lengthAdjust="spacingAndGlyphs">AMO1</text>
<circle cx="460.8" cy="590.75" r="1.4" fill="#e8911f"/>
<text x="466.9" y="593.45" font-size="7.8" fill="#111" stroke="#111" stroke-width="0.15" textLength="25.9" lengthAdjust="spacingAndGlyphs">KMS11</text>
<circle cx="460.8" cy="600.00" r="1.4" fill="#b3122c"/>
<text x="466.9" y="602.70" font-size="7.8" fill="#111" stroke="#111" stroke-width="0.15" textLength="18.6" lengthAdjust="spacingAndGlyphs">L363</text>
<circle cx="460.8" cy="609.25" r="1.4" fill="#58b02d"/>
<text x="466.9" y="611.95" font-size="7.8" fill="#111" stroke="#111" stroke-width="0.15" textLength="23.9" lengthAdjust="spacingAndGlyphs">MM1S</text>
<circle cx="460.8" cy="618.50" r="1.4" fill="#aaa6dd"/>
<text x="466.9" y="621.20" font-size="7.8" fill="#111" stroke="#111" stroke-width="0.15" textLength="38.0" lengthAdjust="spacingAndGlyphs">RPMI8226</text>
<rect x="0" y="0" width="1.5" height="727" fill="#000"/>
<rect x="0" y="0" width="520" height="1.6" fill="#000"/>
<rect x="518.1" y="0" width="1.9" height="727" fill="#000"/>
<rect x="0" y="724.8" width="520" height="2.2" fill="#000"/>
</svg>
</body></html>
